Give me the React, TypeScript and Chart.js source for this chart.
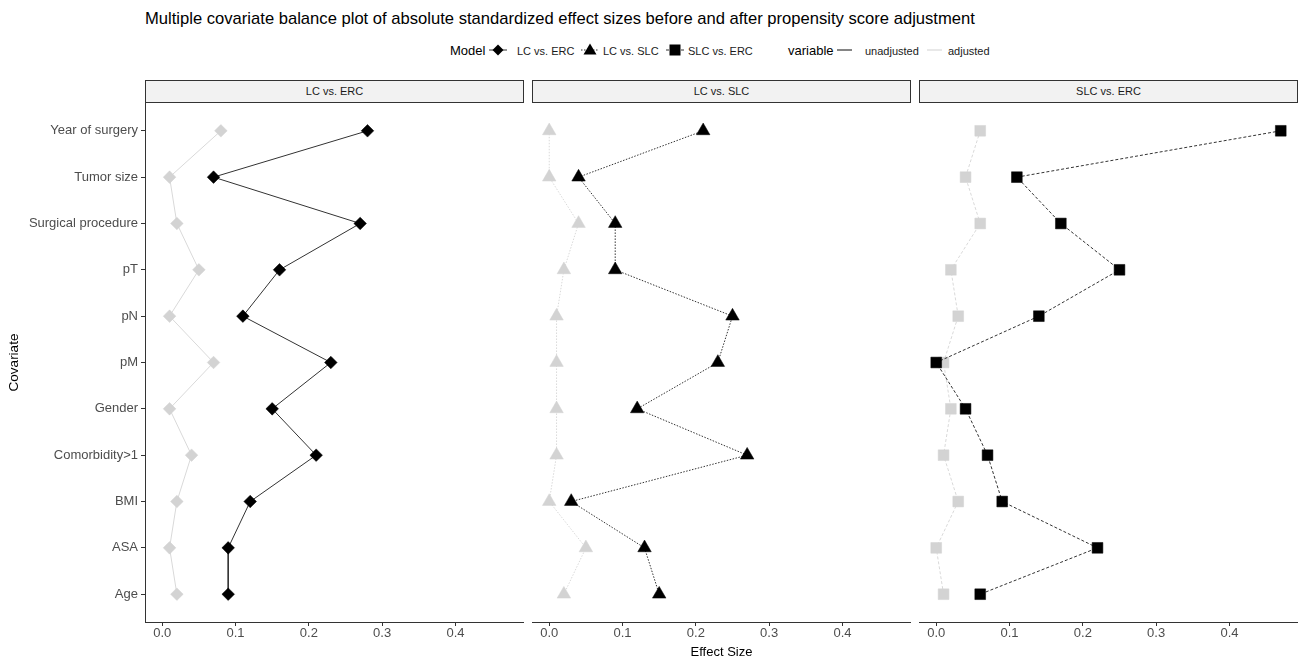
import React, { useEffect, useRef } from "react";
import { Chart, registerables } from "chart.js";

Chart.register(...registerables);

const covariates = [
  "Year of surgery",
  "Tumor size",
  "Surgical procedure",
  "pT",
  "pN",
  "pM",
  "Gender",
  "Comorbidity>1",
  "BMI",
  "ASA",
  "Age",
];
const panelNames = ["LC vs. ERC", "LC vs. SLC", "SLC vs. ERC"];
const xTickValues = [0, 0.1, 0.2, 0.3, 0.4];

const lcErcUnadjusted = [0.28, 0.07, 0.27, 0.16, 0.11, 0.23, 0.15, 0.21, 0.12, 0.09, 0.09];
const lcErcAdjusted = [0.08, 0.01, 0.02, 0.05, 0.01, 0.07, 0.01, 0.04, 0.02, 0.01, 0.02];
const lcSlcUnadjusted = [0.21, 0.04, 0.09, 0.09, 0.25, 0.23, 0.12, 0.27, 0.03, 0.13, 0.15];
const lcSlcAdjusted = [0.0, 0.0, 0.04, 0.02, 0.01, 0.01, 0.01, 0.01, 0.0, 0.05, 0.02];
const slcErcUnadjusted = [0.47, 0.11, 0.17, 0.25, 0.14, 0.0, 0.04, 0.07, 0.09, 0.22, 0.06];
const slcErcAdjusted = [0.06, 0.04, 0.06, 0.02, 0.03, 0.01, 0.02, 0.01, 0.03, 0.0, 0.01];

const FONT = "'Liberation Sans', Arial, Helvetica, sans-serif";
const CANVAS_TOP = 83;
const CANVAS_H = 581;

type PanelCfg = {
  name: string;
  left: number;
  width: number;
  plotLeft: number;
  unadj: number[];
  adj: number[];
  dash: number[];
  style: string;
  radius: number;
  yAxis: boolean;
  xTitle: boolean;
};

const panelCfgs: PanelCfg[] = [
  { name: panelNames[0], left: 0, width: 524, plotLeft: 145, unadj: lcErcUnadjusted, adj: lcErcAdjusted, dash: [], style: "rectRot", radius: 6.3, yAxis: true, xTitle: false },
  { name: panelNames[1], left: 532, width: 379, plotLeft: 532, unadj: lcSlcUnadjusted, adj: lcSlcAdjusted, dash: [1.5, 1.5], style: "triangle", radius: 7.8, yAxis: false, xTitle: true },
  { name: panelNames[2], left: 919, width: 379, plotLeft: 919, unadj: slcErcUnadjusted, adj: slcErcAdjusted, dash: [3, 2], style: "rect", radius: 7.6, yAxis: false, xTitle: false },
];

function Panel({ cfg }: { cfg: PanelCfg }) {
  const ref = useRef<HTMLCanvasElement | null>(null);
  useEffect(() => {
    if (!ref.current) return;
    const chart = new Chart(ref.current, {
      type: "line",
      data: {
        datasets: [
          {
            label: "unadjusted",
            data: cfg.unadj.map((v, i) => ({ x: v, y: i })),
            borderColor: "#333333",
            borderWidth: 1,
            borderDash: cfg.dash,
            pointStyle: cfg.style as any,
            pointRadius: cfg.radius,
            pointBackgroundColor: "#000000",
            pointBorderColor: "#000000",
            pointBorderWidth: 0.5,
            showLine: true,
            fill: false,
            tension: 0,
            clip: false as any,
          },
          {
            label: "adjusted",
            data: cfg.adj.map((v, i) => ({ x: v, y: i })),
            borderColor: "#d9d9d9",
            borderWidth: 1,
            borderDash: cfg.dash,
            pointStyle: cfg.style as any,
            pointRadius: cfg.radius,
            pointBackgroundColor: "#d3d3d3",
            pointBorderColor: "#d3d3d3",
            pointBorderWidth: 0.5,
            showLine: true,
            fill: false,
            tension: 0,
            clip: false as any,
          },
        ],
      },
      options: {
        animation: false,
        responsive: false,
        maintainAspectRatio: false,
        layout: { autoPadding: false, padding: { top: 20, bottom: 0, left: 0, right: 0 } },
        plugins: { legend: { display: false }, tooltip: { enabled: false } },
        scales: {
          x: {
            type: "linear",
            min: -0.0235,
            max: 0.4935,
            afterBuildTicks: (s: any) => {
              s.ticks = xTickValues.map((v) => ({ value: v }));
            },
            afterFit: (s: any) => {
              s.height = 42;
            },
            ticks: {
              callback: (v: any) => Number(v).toFixed(1),
              color: "#4d4d4d",
              font: { family: FONT, size: 13 },
              padding: 0,
              maxRotation: 0,
              autoSkip: false,
            },
            grid: { drawOnChartArea: false, drawTicks: true, tickLength: 4, color: "#333333", lineWidth: 1 },
            border: { display: true, color: "#333333", width: 1 },
            title: {
              display: cfg.xTitle,
              text: "Effect Size",
              color: "#000000",
              font: { family: FONT, size: 13 },
              padding: { top: 0, bottom: 4 },
            },
          },
          y: {
            type: "linear",
            reverse: true,
            min: -0.6,
            max: 10.6,
            display: cfg.yAxis,
            afterBuildTicks: (s: any) => {
              s.ticks = covariates.map((_, i) => ({ value: i }));
            },
            afterFit: (s: any) => {
              if (cfg.yAxis) s.width = cfg.plotLeft;
            },
            ticks: {
              callback: (v: any) => covariates[Math.round(Number(v))],
              color: "#4d4d4d",
              font: { family: FONT, size: 13 },
              padding: 3,
              autoSkip: false,
            },
            grid: { drawOnChartArea: false, drawTicks: true, tickLength: 4, color: "#333333", lineWidth: 1 },
            border: { display: true, color: "#333333", width: 1 },
            title: {
              display: true,
              text: "Covariate",
              color: "#000000",
              font: { family: FONT, size: 13.5 },
              padding: { top: 6, bottom: 0 },
            },
          },
        },
      } as any,
    });
    return () => chart.destroy();
  }, [cfg]);
  return (
    <canvas
      ref={ref}
      width={cfg.width}
      height={CANVAS_H}
      style={{ position: "absolute", left: cfg.left, top: CANVAS_TOP, width: cfg.width, height: CANVAS_H }}
    />
  );
}

function Strip({ cfg }: { cfg: PanelCfg }) {
  const w = cfg.left + cfg.width - cfg.plotLeft;
  return (
    <div
      style={{
        position: "absolute",
        left: cfg.plotLeft,
        top: 80,
        width: w,
        height: 23,
        boxSizing: "border-box",
        border: "1px solid #333333",
        background: "#f2f2f2",
        color: "#1a1a1a",
        fontFamily: FONT,
        fontSize: 11,
        lineHeight: "21px",
        textAlign: "center",
      }}
    >
      {cfg.name}
    </div>
  );
}

function Key({ cx, shape, dash, color }: { cx: number; shape: string; dash: string; color: string }) {
  return (
    <svg width={20} height={16} style={{ position: "absolute", left: cx - 10, top: 42 }}>
      <line x1={1} y1={8} x2={19} y2={8} stroke={color} strokeWidth={1} strokeDasharray={dash} />
      {shape === "diamond" && <polygon points="10,2.5 15.5,8 10,13.5 4.5,8" fill="#000" />}
      {shape === "triangle" && <polygon points="10,1.5 16.5,12.5 3.5,12.5" fill="#000" />}
      {shape === "square" && <rect x={4.5} y={2.5} width={11} height={11} fill="#000" />}
    </svg>
  );
}

function LegendText({ left, text, size }: { left: number; text: string; size: number }) {
  return (
    <div
      style={{
        position: "absolute",
        left,
        top: size > 12 ? 42.5 : 43,
        fontFamily: FONT,
        fontSize: size,
        lineHeight: "16px",
        color: size > 12 ? "#000" : "#1a1a1a",
        whiteSpace: "nowrap",
      }}
    >
      {text}
    </div>
  );
}

export default function App() {
  return (
    <div style={{ position: "absolute", left: 0, top: 0, width: 1303, height: 664, background: "#fff", overflow: "hidden" }}>
      <div
        style={{
          position: "absolute",
          left: 145,
          top: 8.5,
          fontFamily: FONT,
          fontSize: 16.6,
          lineHeight: "20px",
          color: "#000",
          whiteSpace: "nowrap",
        }}
      >
        Multiple covariate balance plot of absolute standardized effect sizes before and after propensity score adjustment
      </div>
      <LegendText left={450} text="Model" size={13} />
      <Key cx={498} shape="diamond" dash="" color="#333" />
      <LegendText left={517} text={panelNames[0]} size={11} />
      <Key cx={590} shape="triangle" dash="1.5 1.5" color="#333" />
      <LegendText left={603} text={panelNames[1]} size={11} />
      <Key cx={675} shape="square" dash="3 2" color="#333" />
      <LegendText left={688} text={panelNames[2]} size={11} />
      <LegendText left={788} text="variable" size={13} />
      <svg width={18} height={16} style={{ position: "absolute", left: 836, top: 42 }}>
        <line x1={1} y1={8} x2={16} y2={8} stroke="#333" strokeWidth={1.2} />
      </svg>
      <LegendText left={865} text="unadjusted" size={11} />
      <svg width={18} height={16} style={{ position: "absolute", left: 926, top: 42 }}>
        <line x1={1} y1={8} x2={16} y2={8} stroke="#d9d9d9" strokeWidth={1.2} />
      </svg>
      <LegendText left={948} text="adjusted" size={11} />
      {panelCfgs.map((c) => (
        <Strip key={"s" + c.name} cfg={c} />
      ))}
      {panelCfgs.map((c) => (
        <Panel key={"p" + c.name} cfg={c} />
      ))}
    </div>
  );
}
